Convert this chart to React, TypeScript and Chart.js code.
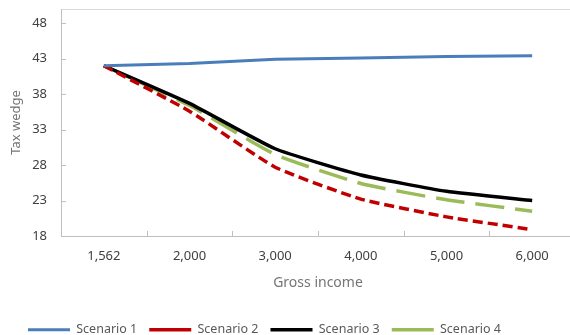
import React, { useEffect, useRef } from "react";
import { Chart, registerables } from "chart.js";

Chart.register(...registerables);

const categories = ["1,562", "2,000", "3,000", "4,000", "5,000", "6,000"];
const scenario1 = [42.0, 42.3, 42.9, 43.1, 43.3, 43.4];
const scenario2 = [42.0, 35.6, 27.7, 23.2, 20.7, 18.9];
const scenario3 = [42.0, 36.7, 30.3, 26.6, 24.3, 23.0];
const scenario4 = [42.0, 36.4, 29.5, 25.4, 23.1, 21.5];
const yTickValues = [18, 23, 28, 33, 38, 43, 48, 50];
const yMin = 18;
const yMax = 50;

const FONT = "'Noto Sans', 'Open Sans', sans-serif";

const insideTicks = {
  id: "insideTicks",
  beforeDatasetsDraw(chart: any) {
    const { ctx, scales, chartArea } = chart;
    const x = scales.x;
    const y = scales.y;
    ctx.save();
    ctx.strokeStyle = "#bfbfbf";
    ctx.lineWidth = 1;
    ctx.beginPath();
    for (let i = 1; i < categories.length; i++) {
      const px = Math.round((x.getPixelForValue(i - 1) + x.getPixelForValue(i)) / 2) + 0.5;
      ctx.moveTo(px, chartArea.bottom);
      ctx.lineTo(px, chartArea.bottom - 5);
    }
    for (const v of yTickValues) {
      if (v === yMax || v === yMin) continue;
      const py = Math.round(y.getPixelForValue(v)) + 0.5;
      ctx.moveTo(chartArea.left, py);
      ctx.lineTo(chartArea.left + 5, py);
    }
    ctx.stroke();
    ctx.restore();
  },
};

export default function App() {
  const ref = useRef<HTMLCanvasElement | null>(null);

  useEffect(() => {
    if (!ref.current) return;
    const chart = new Chart(ref.current, {
      type: "line",
      data: {
        labels: categories,
        datasets: [
          {
            label: "Scenario 1",
            data: scenario1,
            borderColor: "#4a7ebb",
            backgroundColor: "#4a7ebb",
            borderWidth: 3,
            pointRadius: 0,
            tension: 0,
          },
          {
            label: "Scenario 2",
            data: scenario2,
            borderColor: "#c00000",
            backgroundColor: "#c00000",
            borderWidth: 3.5,
            borderDash: [10, 5],
            pointRadius: 0,
            tension: 0.15,
          },
          {
            label: "Scenario 3",
            data: scenario3,
            borderColor: "#000000",
            backgroundColor: "#000000",
            borderWidth: 3.5,
            pointRadius: 0,
            tension: 0.15,
          },
          {
            label: "Scenario 4",
            data: scenario4,
            borderColor: "#9bbb59",
            backgroundColor: "#9bbb59",
            borderWidth: 3.5,
            borderDash: [29, 11],
            pointRadius: 0,
            tension: 0.15,
          },
        ],
      },
      options: {
        responsive: false,
        animation: false,
        layout: { padding: { top: 0, left: 16, right: 5, bottom: 0 } },
        plugins: {
          legend: {
            position: "bottom",
            align: "start",
            labels: {
              usePointStyle: true,
              pointStyle: "line",
              pointStyleWidth: 42,
              padding: 12,
              color: "#595959",
              font: { family: FONT, size: 12.5 },
            },
          },
          tooltip: { enabled: false },
        },
        scales: {
          x: {
            type: "category",
            offset: true,
            grid: { display: true, color: "rgba(0,0,0,0)", drawTicks: false, offset: true },
            border: { display: true, color: "#bfbfbf", width: 1 },
            ticks: {
              color: "#404040",
              font: { family: FONT, size: 13 },
              padding: 12,
              maxRotation: 0,
              autoSkip: false,
            },
            title: {
              display: true,
              text: "Gross income",
              color: "#757575",
              font: { family: FONT, size: 14 },
              padding: { top: 0, bottom: 20 },
            },
            afterFit(scale: any) {
              scale.height = 75.5;
            },
          },
          y: {
            type: "linear",
            min: yMin,
            max: yMax,
            afterBuildTicks(axis: any) {
              axis.ticks = yTickValues.map((value) => ({ value }));
            },
            grid: {
              drawTicks: false,
              color: (ctx: any) => (ctx.tick && ctx.tick.value === yMax ? "#d9d9d9" : "rgba(0,0,0,0)"),
            },
            border: { display: true, color: "#bfbfbf", width: 1 },
            ticks: {
              color: "#404040",
              font: { family: FONT, size: 13 },
              padding: 14,
              callback: (v: any) => (v === yMax ? "" : String(v)),
            },
            title: {
              display: true,
              text: "Tax wedge",
              color: "#757575",
              font: { family: FONT, size: 13 },
              padding: { top: -8, bottom: 0 },
            },
            afterFit(scale: any) {
              scale.width = 45;
              scale.paddingTop = 9;
              scale.paddingBottom = 0;
            },
          },
        },
      },
      plugins: [insideTicks],
    });
    return () => chart.destroy();
  }, []);

  return (
    <div
      style={{
        position: "absolute",
        left: 0,
        top: 0,
        width: 570,
        height: 335,
        overflow: "hidden",
        background: "#ffffff",
      }}
    >
      <canvas ref={ref} width={580} height={346} style={{ display: "block" }} />
    </div>
  );
}
